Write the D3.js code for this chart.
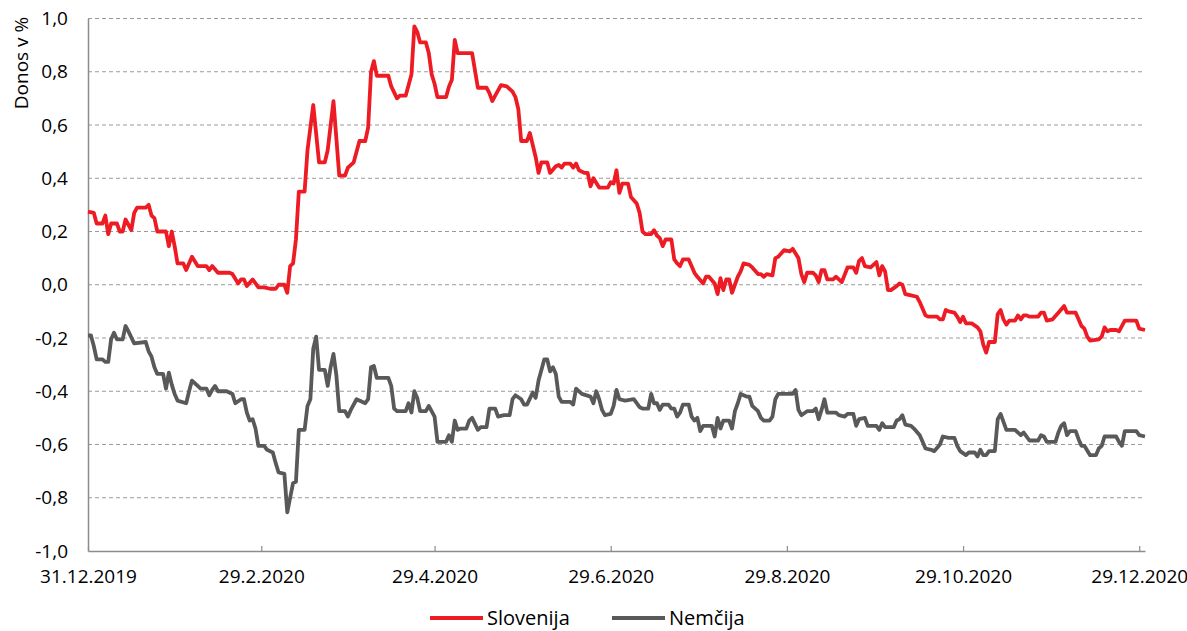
<!DOCTYPE html>
<html lang="sl">

<head>
    <meta charset="UTF-8">
    <title>Donos v %</title>
    <script src="https://cdnjs.cloudflare.com/ajax/libs/d3/7.8.5/d3.min.js"></script>
    <style>
        body { margin: 0; background: #fff; }
        svg text { font-family: "Open Sans", "Noto Sans", sans-serif; fill: #000; }
    </style>
</head>

<body>
    <script>
        // days counted from 31.12.2019
        const startDate = '31.12.2019';
        const endDate = '31.12.2020';
        const tickLabels = ['31.12.2019', '29.2.2020', '29.4.2020', '29.6.2020', '29.8.2020', '29.10.2020', '29.12.2020'];
        const yTicks = [-1, -0.8, -0.6, -0.4, -0.2, 0, 0.2, 0.4, 0.6, 0.8, 1];
        const seriesNames = ['Slovenija', 'Nemčija'];

        const slovenijaDays = [0, 2, 3, 5, 6, 7, 8, 10, 11, 12, 13, 15, 16, 17, 20, 21, 22, 23, 24, 27, 28, 29, 30, 31, 33, 34, 36, 38, 41, 42, 43, 45, 49, 50, 52, 53, 54, 55, 57, 59, 61, 63, 65, 66, 68, 69, 70, 71, 72, 73, 75, 76, 78, 80, 82, 83, 85, 87, 89, 90, 92, 94, 96, 97, 98, 99, 100, 104, 105, 107, 108, 110, 112, 113, 114, 115, 117, 118, 119, 120, 121, 124, 125, 126, 127, 128, 133, 135, 138, 139, 140, 141, 143, 145, 147, 148, 149, 150, 152, 153, 155, 156, 157, 159, 160, 162, 163, 164, 165, 167, 168, 169, 170, 172, 173, 174, 175, 177, 180, 181, 182, 183, 184, 185, 187, 188, 190, 191, 192, 193, 195, 196, 197, 198, 199, 200, 202, 203, 204, 205, 206, 208, 210, 211, 213, 214, 215, 217, 218, 219, 220, 221, 222, 223, 225, 226, 227, 229, 230, 232, 233, 234, 235, 237, 238, 239, 241, 243, 244, 246, 247, 248, 249, 251, 252, 253, 254, 255, 256, 258, 259, 260, 261, 263, 265, 266, 267, 268, 269, 271, 273, 274, 275, 276, 277, 278, 280, 281, 282, 283, 285, 287, 288, 289, 290, 291, 294, 295, 296, 297, 298, 300, 301, 302, 303, 304, 306, 308, 309, 310, 311, 312, 314, 315, 316, 317, 318, 319, 321, 322, 323, 324, 325, 326, 329, 330, 331, 332, 334, 336, 338, 339, 340, 342, 343, 344, 345, 346, 347, 350, 351, 352, 353, 354, 356, 357, 359, 363, 364, 366];
        const slovenijaValues = [0.275, 0.27, 0.23, 0.23, 0.26, 0.19, 0.23, 0.23, 0.2, 0.2, 0.245, 0.205, 0.27, 0.29, 0.29, 0.3, 0.26, 0.25, 0.2, 0.2, 0.145, 0.2, 0.145, 0.08, 0.08, 0.055, 0.105, 0.07, 0.07, 0.055, 0.07, 0.045, 0.045, 0.04, 0.005, 0.02, 0.02, -0.005, 0.02, -0.01, -0.01, -0.015, -0.015, 0, 0, -0.03, 0.07, 0.08, 0.17, 0.35, 0.35, 0.505, 0.675, 0.46, 0.46, 0.505, 0.69, 0.41, 0.41, 0.44, 0.46, 0.54, 0.54, 0.59, 0.8, 0.84, 0.785, 0.785, 0.745, 0.7, 0.71, 0.71, 0.79, 0.97, 0.95, 0.91, 0.91, 0.87, 0.79, 0.755, 0.705, 0.705, 0.745, 0.77, 0.92, 0.87, 0.87, 0.74, 0.74, 0.72, 0.69, 0.71, 0.75, 0.745, 0.725, 0.705, 0.66, 0.54, 0.54, 0.57, 0.48, 0.42, 0.46, 0.46, 0.42, 0.445, 0.45, 0.44, 0.455, 0.455, 0.44, 0.455, 0.43, 0.42, 0.42, 0.37, 0.4, 0.365, 0.365, 0.385, 0.38, 0.43, 0.345, 0.38, 0.38, 0.33, 0.305, 0.27, 0.2, 0.19, 0.19, 0.205, 0.185, 0.175, 0.145, 0.17, 0.17, 0.095, 0.08, 0.07, 0.095, 0.095, 0.045, 0.03, 0.005, 0.03, 0.03, 0.005, -0.035, 0.025, -0.02, 0.02, 0.02, -0.03, 0.03, 0.05, 0.08, 0.075, 0.065, 0.04, 0.04, 0.03, 0.04, 0.035, 0.1, 0.105, 0.13, 0.125, 0.135, 0.1, 0.04, 0.01, 0.045, 0.045, 0.035, 0.01, 0.055, 0.055, 0.02, 0.02, 0.03, 0.02, 0.01, 0.065, 0.065, 0.045, 0.09, 0.1, 0.07, 0.065, 0.085, 0.035, 0.07, 0.05, -0.02, -0.02, -0.005, 0.005, 0, -0.035, -0.04, -0.045, -0.065, -0.09, -0.115, -0.12, -0.12, -0.13, -0.13, -0.095, -0.1, -0.105, -0.12, -0.14, -0.12, -0.145, -0.145, -0.16, -0.175, -0.225, -0.255, -0.215, -0.215, -0.11, -0.095, -0.13, -0.15, -0.135, -0.135, -0.115, -0.13, -0.115, -0.115, -0.12, -0.12, -0.105, -0.105, -0.135, -0.13, -0.105, -0.08, -0.105, -0.105, -0.105, -0.13, -0.155, -0.165, -0.195, -0.21, -0.205, -0.195, -0.16, -0.175, -0.17, -0.17, -0.175, -0.135, -0.135, -0.165, -0.17];

        const nemcijaDays = [0, 1, 2, 3, 5, 6, 7, 8, 9, 10, 12, 13, 14, 16, 20, 21, 22, 23, 24, 26, 27, 28, 29, 30, 31, 34, 35, 36, 38, 39, 41, 42, 43, 44, 45, 48, 50, 51, 53, 54, 55, 56, 57, 58, 59, 61, 62, 64, 65, 66, 68, 69, 70, 71, 72, 73, 75, 76, 77, 78, 79, 80, 82, 83, 84, 85, 86, 87, 89, 90, 91, 93, 96, 97, 98, 99, 100, 104, 105, 106, 107, 110, 111, 112, 113, 114, 115, 117, 118, 120, 121, 124, 125, 126, 127, 128, 129, 131, 132, 133, 135, 136, 138, 139, 141, 142, 144, 146, 147, 148, 150, 151, 152, 154, 155, 156, 157, 158, 159, 160, 161, 162, 163, 164, 167, 168, 169, 171, 174, 175, 176, 177, 178, 179, 181, 182, 183, 184, 186, 189, 191, 192, 194, 195, 196, 197, 198, 199, 201, 202, 203, 204, 205, 206, 208, 209, 210, 211, 212, 213, 216, 217, 218, 219, 220, 222, 223, 224, 225, 226, 228, 229, 230, 232, 233, 234, 236, 237, 238, 239, 242, 244, 245, 246, 247, 249, 251, 252, 253, 254, 255, 256, 259, 260, 262, 263, 265, 266, 267, 269, 270, 273, 274, 275, 276, 279, 280, 281, 282, 283, 285, 286, 288, 289, 290, 292, 293, 295, 296, 298, 300, 301, 302, 304, 305, 307, 308, 309, 310, 311, 312, 314, 315, 316, 317, 318, 321, 323, 324, 326, 329, 330, 331, 332, 335, 336, 337, 338, 339, 340, 342, 343, 344, 345, 347, 349, 350, 351, 352, 354, 356, 357, 358, 359, 363, 364, 366];
        const nemcijaValues = [-0.19, -0.19, -0.23, -0.28, -0.28, -0.29, -0.29, -0.205, -0.18, -0.205, -0.205, -0.155, -0.175, -0.22, -0.215, -0.25, -0.27, -0.31, -0.335, -0.335, -0.39, -0.33, -0.375, -0.41, -0.435, -0.445, -0.4, -0.36, -0.38, -0.39, -0.39, -0.415, -0.395, -0.38, -0.4, -0.4, -0.41, -0.445, -0.43, -0.43, -0.48, -0.51, -0.505, -0.54, -0.605, -0.605, -0.62, -0.63, -0.67, -0.705, -0.71, -0.855, -0.8, -0.745, -0.74, -0.545, -0.545, -0.455, -0.43, -0.24, -0.195, -0.32, -0.32, -0.38, -0.31, -0.26, -0.34, -0.475, -0.475, -0.495, -0.47, -0.43, -0.445, -0.43, -0.31, -0.305, -0.35, -0.35, -0.38, -0.465, -0.475, -0.475, -0.445, -0.48, -0.4, -0.425, -0.475, -0.475, -0.455, -0.495, -0.59, -0.59, -0.565, -0.59, -0.51, -0.545, -0.54, -0.54, -0.51, -0.5, -0.545, -0.535, -0.535, -0.465, -0.465, -0.495, -0.49, -0.49, -0.43, -0.415, -0.43, -0.45, -0.45, -0.405, -0.425, -0.36, -0.32, -0.28, -0.28, -0.325, -0.31, -0.335, -0.42, -0.44, -0.44, -0.45, -0.39, -0.41, -0.42, -0.445, -0.4, -0.43, -0.47, -0.49, -0.485, -0.455, -0.395, -0.43, -0.435, -0.43, -0.46, -0.465, -0.465, -0.41, -0.445, -0.445, -0.47, -0.45, -0.45, -0.465, -0.465, -0.495, -0.48, -0.45, -0.45, -0.495, -0.51, -0.5, -0.55, -0.53, -0.53, -0.57, -0.5, -0.54, -0.51, -0.51, -0.54, -0.475, -0.445, -0.41, -0.42, -0.42, -0.455, -0.475, -0.5, -0.51, -0.51, -0.495, -0.43, -0.41, -0.41, -0.41, -0.395, -0.47, -0.49, -0.475, -0.475, -0.465, -0.505, -0.47, -0.43, -0.48, -0.48, -0.49, -0.495, -0.485, -0.485, -0.53, -0.505, -0.5, -0.53, -0.53, -0.545, -0.52, -0.535, -0.535, -0.51, -0.505, -0.49, -0.525, -0.53, -0.54, -0.565, -0.59, -0.615, -0.62, -0.625, -0.6, -0.57, -0.575, -0.575, -0.605, -0.625, -0.64, -0.63, -0.63, -0.645, -0.62, -0.64, -0.64, -0.625, -0.625, -0.505, -0.485, -0.515, -0.545, -0.545, -0.565, -0.555, -0.585, -0.585, -0.565, -0.57, -0.59, -0.59, -0.555, -0.53, -0.52, -0.565, -0.55, -0.55, -0.58, -0.605, -0.605, -0.64, -0.64, -0.615, -0.605, -0.57, -0.57, -0.57, -0.59, -0.605, -0.55, -0.55, -0.565, -0.57];

        const w = 1187;
        const h = 631;
        const margin = { top: 18.5, right: 42, bottom: 80, left: 88 };

        const parseDate = d3.timeParse('%d.%m.%Y');
        const formatDate = d3.timeFormat('%-d.%-m.%Y');
        const locale = d3.formatLocale({ decimal: ',', thousands: '.', grouping: [3], currency: ['', ' €'], minus: '-' });
        const formatValue = locale.format('.1f');

        const start = parseDate(startDate);
        const toSeries = (days, values) => days.map((d, i) => [d3.timeDay.offset(start, d), values[i]]);
        const series = [
            { name: seriesNames[0], color: '#ed1c24', data: toSeries(slovenijaDays, slovenijaValues) },
            { name: seriesNames[1], color: '#595959', data: toSeries(nemcijaDays, nemcijaValues) }
        ];

        const xScale = d3.scaleTime()
            .domain([start, parseDate(endDate)])
            .range([margin.left, w - margin.right]);

        const yScale = d3.scaleLinear()
            .domain([-1, 1])
            .range([551, margin.top]);

        const svg = d3.select('body')
            .append('svg')
            .attr('width', w)
            .attr('height', h);

        // grid lines
        svg.append('g')
            .selectAll('line')
            .data(yTicks.filter(t => t > -1))
            .enter()
            .append('line')
            .attr('x1', margin.left)
            .attr('x2', w - margin.right)
            .attr('y1', d => yScale(d))
            .attr('y2', d => yScale(d))
            .attr('stroke', '#9a9a9a')
            .attr('stroke-width', 1)
            .attr('stroke-dasharray', '4,3');

        // y axis
        const yAxis = d3.axisLeft(yScale)
            .tickValues(yTicks)
            .tickFormat(formatValue)
            .tickSize(0)
            .tickPadding(20);

        svg.append('g')
            .attr('id', 'y-axis')
            .attr('transform', `translate(${margin.left}, 0)`)
            .call(yAxis)
            .call(g => g.select('.domain').attr('stroke', '#8c8c8c').attr('stroke-width', 1.5))
            .call(g => g.selectAll('text').style('font-size', '19px'));

        // x axis
        const xAxis = d3.axisBottom(xScale)
            .tickValues(tickLabels.map(parseDate))
            .tickFormat(formatDate)
            .tickSizeInner(-5)
            .tickSizeOuter(0)
            .tickPadding(19);

        svg.append('g')
            .attr('id', 'x-axis')
            .attr('transform', `translate(0, ${yScale(-1)})`)
            .call(xAxis)
            .call(g => g.select('.domain').attr('stroke', '#8c8c8c').attr('stroke-width', 1.5))
            .call(g => g.selectAll('.tick line').attr('stroke', '#8c8c8c').attr('stroke-width', 1.2))
            .call(g => g.selectAll('text').style('font-size', '19px'));

        // y title
        svg.append('text')
            .attr('transform', `translate(28, 63) rotate(-90)`)
            .attr('text-anchor', 'middle')
            .style('font-size', '19px')
            .text('Donos v %');

        // lines
        const line = d3.line()
            .x(d => xScale(d[0]))
            .y(d => yScale(d[1]));

        svg.append('g')
            .selectAll('path')
            .data(series.slice().reverse())
            .enter()
            .append('path')
            .attr('d', d => line(d.data))
            .attr('fill', 'none')
            .attr('stroke', d => d.color)
            .attr('stroke-width', 3.8)
            .attr('stroke-linejoin', 'round');

        // legend
        const legendX = [430, 612];
        const legend = svg.append('g')
            .selectAll('g')
            .data(series)
            .enter()
            .append('g')
            .attr('transform', (d, i) => `translate(${legendX[i]}, 618)`);

        legend.append('line')
            .attr('x1', 0)
            .attr('x2', 53)
            .attr('stroke', d => d.color)
            .attr('stroke-width', 3.8);

        legend.append('text')
            .attr('x', 57)
            .attr('dy', '0.35em')
            .style('font-size', '20px')
            .text(d => d.name);
    </script>
</body>

</html>
